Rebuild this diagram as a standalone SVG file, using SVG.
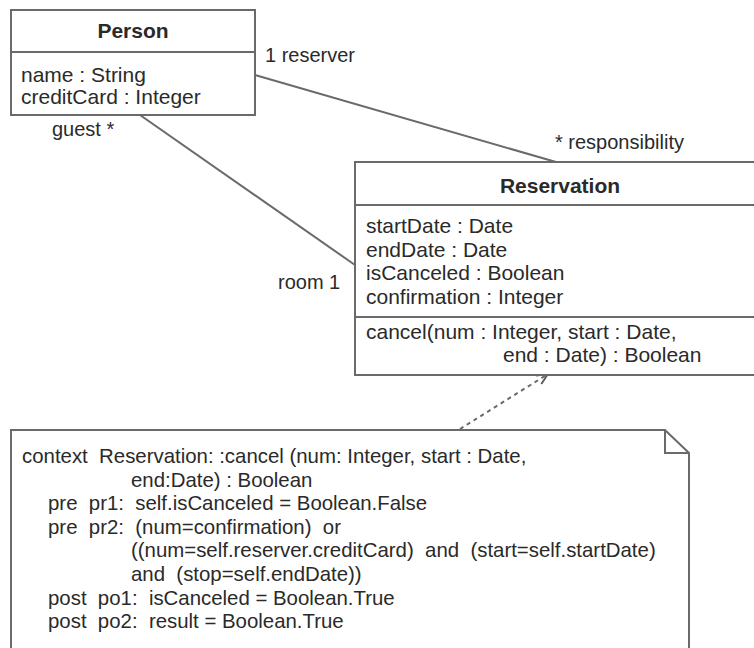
<svg xmlns="http://www.w3.org/2000/svg" width="754" height="648" viewBox="0 0 754 648">
<style>
.box{fill:#fff;stroke:#6a6a6a;stroke-width:2}
.ln{stroke:#6a6a6a;stroke-width:2;fill:none}
.t{font-family:"Liberation Sans",Arial,sans-serif;font-size:21px;fill:#2a2a2a}
.b{font-weight:bold;text-anchor:middle}
.n{font-family:"Liberation Sans",Arial,sans-serif;font-size:20.4px;fill:#2a2a2a}
.lab{font-family:"Liberation Sans",Arial,sans-serif;font-size:20px;fill:#2a2a2a}
</style>
<defs>
<marker id="open" markerWidth="14" markerHeight="14" refX="12" refY="7" orient="auto" markerUnits="userSpaceOnUse">
<path d="M1,2 L12,7 L1,12" fill="none" stroke="#555" stroke-width="1.8"/>
</marker>
</defs>
<rect width="754" height="648" fill="#fff"/>
<g id="connectors">
<line class="ln" x1="255" y1="75" x2="556" y2="162"/>
<line class="ln" x1="140" y1="115" x2="355" y2="265"/>
<line class="ln" x1="460" y1="429" x2="548" y2="374" stroke-dasharray="4,4" stroke="#555" marker-end="url(#open)"/>
<text class="lab" x="265" y="62">1 reserver</text>
<text class="lab" x="52" y="136">guest *</text>
<text class="lab" x="555" y="149">* responsibility</text>
<text class="lab" x="278" y="289">room 1</text>
</g>
<g id="person">
<rect class="box" x="11" y="10" width="244" height="105"/>
<line class="ln" x1="11" y1="52" x2="255" y2="52"/>
<text class="t b" x="133" y="38">Person</text>
<text class="t" x="21" y="82">name : String</text>
<text class="t" x="21" y="104">creditCard : Integer</text>
</g>
<g id="reservation">
<rect class="box" x="355" y="162" width="410" height="213"/>
<line class="ln" x1="355" y1="205" x2="754" y2="205"/>
<line class="ln" x1="355" y1="317" x2="754" y2="317"/>
<text class="t b" x="560" y="193">Reservation</text>
<text class="t" x="366" y="233">startDate : Date</text>
<text class="t" x="366" y="257">endDate : Date</text>
<text class="t" x="366" y="280">isCanceled : Boolean</text>
<text class="t" x="366" y="304">confirmation : Integer</text>
<text class="t" x="366" y="339">cancel(num : Integer, start : Date,</text>
<text class="t" x="503" y="362">end : Date) : Boolean</text>
</g>
<g id="note">
<path class="box" d="M11,660 L11,430 L665,430 L689,453 L689,660"/>
<path class="ln" d="M665,430 L665,453 L689,453"/>
<text class="n" xml:space="preserve" x="22" y="463">context  Reservation: :cancel (num: Integer, start : Date,</text>
<text class="n" xml:space="preserve" x="131" y="487">end:Date) : Boolean</text>
<text class="n" xml:space="preserve" x="48" y="510">pre  pr1:  self.isCanceled = Boolean.False</text>
<text class="n" xml:space="preserve" x="48" y="534">pre  pr2:  (num=confirmation)  or</text>
<text class="n" xml:space="preserve" x="131" y="557">((num=self.reserver.creditCard)  and  (start=self.startDate)</text>
<text class="n" xml:space="preserve" x="131" y="581">and  (stop=self.endDate))</text>
<text class="n" xml:space="preserve" x="48" y="605">post  po1:  isCanceled = Boolean.True</text>
<text class="n" xml:space="preserve" x="48" y="628">post  po2:  result = Boolean.True</text>
</g>
</svg>
